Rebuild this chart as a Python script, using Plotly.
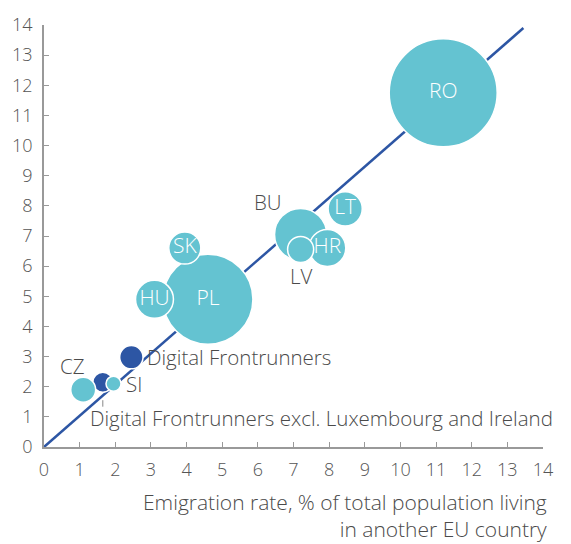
import plotly.graph_objects as go

# Countries / groups
labels = ["RO", "PL", "HU", "SK", "BU", "HR", "LV", "LT",
          "Digital Frontrunners excl. Luxembourg and Ireland", "CZ", "SI",
          "Digital Frontrunners"]
# Emigration rate, % of total population living in another EU country
emigration = [11.2, 4.6, 3.1, 3.95, 7.2, 7.95, 7.2, 8.45, 1.65, 1.1, 1.95, 2.45]
# Vertical measure
yvals = [11.75, 4.9, 4.9, 6.6, 7.05, 6.6, 6.55, 7.9, 2.15, 1.9, 2.1, 2.98]
# Bubble size: emigrants (thousands)
emigrants = [3000, 2080, 370, 265, 700, 350, 175, 300, 103, 160, 58, 140]
is_group = [False, False, False, False, False, False, False, False, True, False, False, True]

# Reference line
line_x = [0, 13.45]
line_y = [0, 13.9]

ticks = list(range(0, 15))

TEAL = "#64C3D1"
NAVY = "#2D56A4"
GREY = "#4A4A4A"
FONT = "Open Sans"

inside = {"RO", "PL", "HU", "SK", "HR", "LT"}
colors = [NAVY if g else TEAL for g in is_group]
texts = [lab if lab in inside else "" for lab in labels]

fig = go.Figure()
fig.add_trace(go.Scatter(
    x=line_x, y=line_y, mode="lines",
    line=dict(color=NAVY, width=2.5), hoverinfo="skip", showlegend=False))

max_d = 108
fig.add_trace(go.Scatter(
    x=emigration, y=yvals, mode="markers+text",
    text=texts, textposition="middle center",
    textfont=dict(family=FONT, size=21, color="white", weight=300),
    marker=dict(size=emigrants, sizemode="area",
                sizeref=2 * max(emigrants) / max_d ** 2,
                color=colors, opacity=1,
                line=dict(color="white", width=1.5)),
    showlegend=False, cliponaxis=False))

# Outside labels: (label, xshift, yshift, xanchor)
outside = {
    "BU": (-33, 32, "center"),
    "LV": (1, -26, "center"),
    "CZ": (-11, 24, "center"),
    "SI": (10, 0, "left"),
    "Digital Frontrunners": (14, 0, "left"),
    "Digital Frontrunners excl. Luxembourg and Ireland": (-15, -36, "left"),
}
annotations = []
for lab, xv, yv in zip(labels, emigration, yvals):
    if lab in outside:
        dx, dy, anc = outside[lab]
        annotations.append(dict(
            x=xv, y=yv, xref="x", yref="y", text=lab, showarrow=False,
            xshift=dx, yshift=dy, xanchor=anc, yanchor="middle",
            font=dict(family=FONT, size=20.5, color=GREY, weight=300)))

# leader tick under the excl. group bubble
i_ex = labels.index("Digital Frontrunners excl. Luxembourg and Ireland")
annotations.append(dict(
    x=emigration[i_ex], y=yvals[i_ex], xref="x", yref="y", text="",
    showarrow=True, arrowhead=0, arrowwidth=1, arrowcolor="#888888",
    ax=0, ay=26, standoff=18))

# x-axis title
annotations.append(dict(
    x=1, y=0, xref="paper", yref="paper", xanchor="right", yanchor="top",
    xshift=6, yshift=-39, align="right", showarrow=False,
    text="Emigration rate, % of total population living<br>in another EU country",
    font=dict(family=FONT, size=21, color=GREY, weight=300)))

axis_common = dict(
    range=[0, 14], tickvals=ticks, ticktext=[str(t) for t in ticks],
    showgrid=False, zeroline=False, showline=True, linecolor="#999999",
    linewidth=1.5, ticks="inside", ticklen=5, tickcolor="#999999",
    tickwidth=1.2, tickfont=dict(family=FONT, size=18, color="#555555", weight=300),
    fixedrange=True)

fig.update_layout(
    width=571, height=544,
    margin=dict(l=43, r=28, t=20, b=97),
    paper_bgcolor="white", plot_bgcolor="white",
    xaxis=dict(**axis_common, ticklabelstandoff=6),
    yaxis=dict(**axis_common, ticklabelstandoff=6),
    annotations=annotations,
)

fig.write_html("out.html")
